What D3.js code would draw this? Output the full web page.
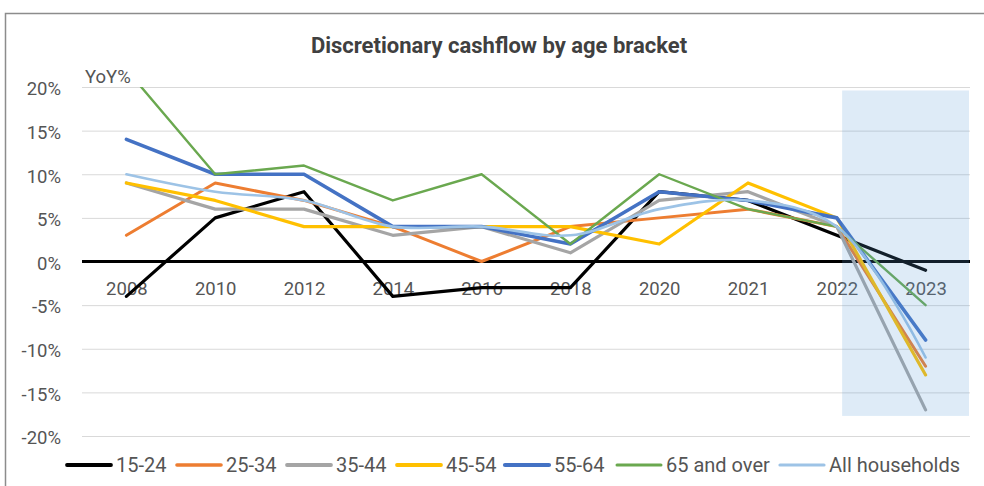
<!DOCTYPE html>
<html>
<head>
<meta charset="utf-8">
<script src="https://cdn.jsdelivr.net/npm/d3@7"></script>
<style>
  html, body { margin: 0; padding: 0; background: #fff; }
  svg { display: block; font-family: Roboto, "Noto Sans", sans-serif; }
</style>
</head>
<body>
<svg id="chart" width="984" height="486"></svg>
<script>
// Year-on-year change in discretionary cashflow, % by age bracket
const years = ["2008", "2010", "2012", "2014", "2016", "2018", "2020", "2021", "2022", "2023"];
const age15to24 = [-4, 5, 8, -4, -3, -3, 8, 7, 3, -1];
const age25to34 = [3, 9, 7, 4, 0, 4, 5, 6, 4, -12];
const age35to44 = [9, 6, 6, 3, 4, 1, 7, 8, 4, -17];
const age45to54 = [9, 7, 4, 4, 4, 4, 2, 9, 5, -13];
const age55to64 = [14, 10, 10, 4, 4, 2, 8, 7, 5, -9];
const age65plus = [22, 10, 11, 7, 10, 2, 10, 6, 4, -5];
const allHouseholds = [10, 8, 7, 4, 4, 3, 6, 7, 4, -11];
const yTicks = [20, 15, 10, 5, 0, -5, -10, -15, -20];
const seriesNames = ["15-24", "25-34", "35-44", "45-54", "55-64", "65 and over", "All households"];

const series = [
  { name: seriesNames[0], values: age15to24, color: "#000000", width: 3.2, smooth: false },
  { name: seriesNames[1], values: age25to34, color: "#ED7D31", width: 3, smooth: false },
  { name: seriesNames[2], values: age35to44, color: "#A5A5A5", width: 3.2, smooth: false },
  { name: seriesNames[3], values: age45to54, color: "#FFC000", width: 3.2, smooth: false },
  { name: seriesNames[4], values: age55to64, color: "#4472C4", width: 3.6, smooth: false },
  { name: seriesNames[5], values: age65plus, color: "#6AA84F", width: 2.4, smooth: false },
  { name: seriesNames[6], values: allHouseholds, color: "#9DC3E6", width: 2.6, smooth: true }
];

const svg = d3.select("#chart");
const textColor = "#555555";

// outer frame of the chart object
svg.append("rect")
  .attr("x", 5.5).attr("y", 13.5)
  .attr("width", 1000).attr("height", 500)
  .attr("fill", "#fff")
  .attr("stroke", "#8c8c8c").attr("stroke-width", 1.5);

const plot = { left: 82, right: 970, top: 87, bottom: 436 };

const x = d3.scalePoint().domain(years).range([plot.left, plot.right]).padding(0.5);
const y = d3.scaleLinear().domain([-20, 20]).range([plot.bottom, plot.top]);

// title
svg.append("text")
  .attr("x", 499).attr("y", 53)
  .attr("text-anchor", "middle")
  .attr("font-size", 22).attr("font-weight", 700)
  .attr("fill", "#404040")
  .text("Discretionary cashflow by age bracket");

// horizontal gridlines
svg.append("g")
  .selectAll("line")
  .data(yTicks.filter(d => d !== 0))
  .join("line")
  .attr("x1", plot.left).attr("x2", plot.right)
  .attr("y1", d => y(d) + 0.5).attr("y2", d => y(d) + 0.5)
  .attr("stroke", "#d9d9d9").attr("stroke-width", 1);

// y axis labels
const yAxis = d3.axisLeft(y).tickValues(yTicks).tickSize(0).tickPadding(0)
  .tickFormat(d => d + "%");
svg.append("g")
  .attr("transform", `translate(61,0)`)
  .call(yAxis)
  .call(g => g.select(".domain").remove())
  .call(g => g.selectAll("text")
    .attr("font-size", 18.5).attr("font-family", "Roboto, sans-serif")
    .attr("fill", textColor).attr("dy", "0.42em"));

// unit label
svg.append("text")
  .attr("x", 85).attr("y", 83)
  .attr("font-size", 18.5).attr("fill", textColor)
  .text("YoY%");

// zero baseline
svg.append("line")
  .attr("x1", plot.left).attr("x2", plot.right)
  .attr("y1", y(0)).attr("y2", y(0))
  .attr("stroke", "#000").attr("stroke-width", 3);

// x axis labels sit just under the zero line
const xAxis = d3.axisBottom(x).tickSize(0).tickPadding(0);
svg.append("g")
  .attr("transform", `translate(0,${y(0)})`)
  .call(xAxis)
  .call(g => g.select(".domain").remove())
  .call(g => g.selectAll("text")
    .attr("font-size", 18.5).attr("font-family", "Roboto, sans-serif")
    .attr("fill", textColor).attr("y", 33).attr("dy", 0));

// clip series to the plot area
svg.append("clipPath").attr("id", "plotClip")
  .append("rect")
  .attr("x", plot.left).attr("y", plot.top)
  .attr("width", plot.right - plot.left).attr("height", plot.bottom - plot.top);

const lines = svg.append("g").attr("clip-path", "url(#plotClip)");
series.forEach(s => {
  const gen = d3.line()
    .x((d, i) => x(years[i]))
    .y(d => y(d))
    .curve(s.smooth ? d3.curveCatmullRom.alpha(0.5) : d3.curveLinear);
  lines.append("path")
    .datum(s.values)
    .attr("d", gen)
    .attr("fill", "none")
    .attr("stroke", s.color)
    .attr("stroke-width", s.width)
    .attr("stroke-linejoin", "round")
    .attr("stroke-linecap", "round");
});

// highlighted latest period
const step = x.step();
svg.append("rect")
  .attr("x", x("2022") + step * 0.06)
  .attr("y", y(19.6))
  .attr("width", plot.right - 1 - (x("2022") + step * 0.06))
  .attr("height", y(-17.7) - y(19.6))
  .attr("fill", "#5B9BD5")
  .attr("fill-opacity", 0.2);

// legend
const legendX = [67, 177, 287, 397, 505, 617, 780];
const legend = svg.append("g");
series.forEach((s, i) => {
  const g = legend.append("g").attr("transform", `translate(${legendX[i]},465)`);
  g.append("line")
    .attr("x1", 0).attr("x2", 44)
    .attr("stroke", s.color)
    .attr("stroke-width", s.width + 0.6)
    .attr("stroke-linecap", "round");
  g.append("text")
    .attr("x", 49).attr("y", 7)
    .attr("font-size", 20).attr("fill", textColor)
    .text(s.name);
});
</script>
</body>
</html>
